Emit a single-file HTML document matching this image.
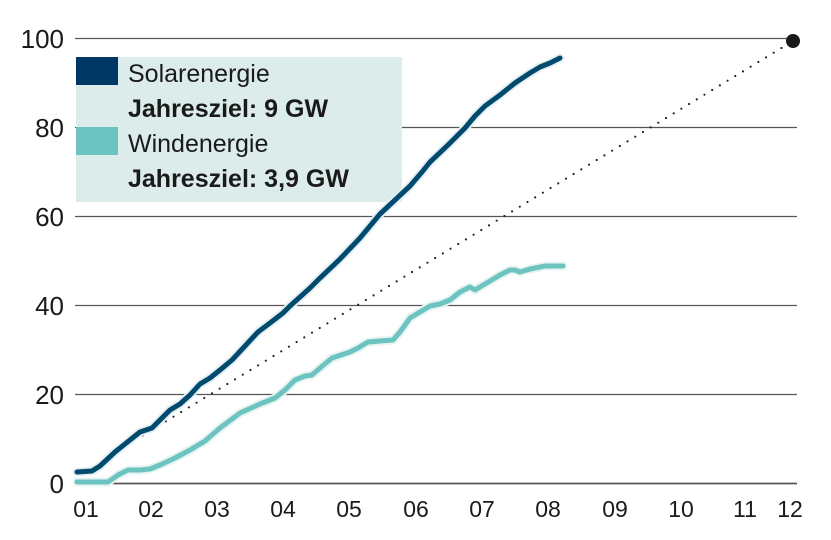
<!DOCTYPE html>
<html><head><meta charset="utf-8"><style>
body{margin:0;background:#fff;}
svg{display:block;font-family:"Liberation Sans",sans-serif;}
</style></head><body>
<svg width="831" height="540" viewBox="0 0 831 540">
<g stroke="#555" stroke-width="1.3">
<line x1="75" x2="797" y1="38.5" y2="38.5"/>
<line x1="75" x2="797" y1="127.5" y2="127.5"/>
<line x1="75" x2="797" y1="216.5" y2="216.5"/>
<line x1="75" x2="797" y1="305.5" y2="305.5"/>
<line x1="75" x2="797" y1="394.5" y2="394.5"/>
<line x1="75" x2="797" y1="483.5" y2="483.5" stroke-width="1.8"/>
</g>
<g font-size="26" fill="#1a1a1a" text-anchor="end">
<text x="64" y="48">100</text>
<text x="64" y="137">80</text>
<text x="64" y="226">60</text>
<text x="64" y="315">40</text>
<text x="64" y="404">20</text>
<text x="64" y="493">0</text>
</g>
<g font-size="23" fill="#1a1a1a" text-anchor="middle">
<text x="86" y="517">01</text><text x="151" y="517">02</text><text x="217" y="517">03</text>
<text x="283" y="517">04</text><text x="349" y="517">05</text><text x="416" y="517">06</text>
<text x="482" y="517">07</text><text x="548" y="517">08</text><text x="615" y="517">09</text>
<text x="681" y="517">10</text><text x="745" y="517">11</text><text x="790" y="517">12</text>
</g>
<line x1="135" y1="440" x2="793" y2="41" stroke="#222" stroke-width="2.2" stroke-linecap="round" stroke-dasharray="0 9"/>
<circle cx="793" cy="41" r="7" fill="#1a1a1a"/>
<rect x="76" y="57" width="326" height="145" fill="#dbeceb"/>
<rect x="76" y="57" width="42" height="28" fill="#003865"/>
<rect x="76" y="127" width="42" height="28" fill="#6cc3bf"/>
<g fill="#1a1a1a" font-size="25">
<text x="128" y="82">Solarenergie</text>
<text x="128" y="117" font-weight="bold">Jahresziel: 9 GW</text>
<text x="128" y="152">Windenergie</text>
<text x="128" y="187" font-weight="bold">Jahresziel: 3,9 GW</text>
</g>
<g fill="none" stroke-linejoin="round" stroke-linecap="round">
<polyline stroke="#e6f4f3" stroke-width="9" points="77,482 108,482 118,475 128,470 140,470 150,469 160,465 175,458 190,450 205,441 220,428 240,413 260,404 275,398 285,390 295,380 305,376 312,375 320,368 332,358 350,352 358,348 368,342 380,341 393,340 400,332 410,318 420,312 430,306 440,304 450,300 460,292 470,287 475,290 490,281 500,275 510,270 515,270 520,272 530,269 545,266 563,266"/>
<polyline stroke="#6cc3bf" stroke-width="5" points="77,482 108,482 118,475 128,470 140,470 150,469 160,465 175,458 190,450 205,441 220,428 240,413 260,404 275,398 285,390 295,380 305,376 312,375 320,368 332,358 350,352 358,348 368,342 380,341 393,340 400,332 410,318 420,312 430,306 440,304 450,300 460,292 470,287 475,290 490,281 500,275 510,270 515,270 520,272 530,269 545,266 563,266"/>
<polyline stroke="#e6f0f4" stroke-width="9" points="77,472 92,471 100,466 115,452 130,440 140,432 152,428 160,420 170,410 180,404 190,395 200,384 210,378 220,370 232,360 245,346 258,332 270,323 283,313 290,306 300,297 310,288 320,278 340,259 360,238 380,214 395,200 410,186 422,172 430,162 450,143 465,128 475,116 485,106 500,95 515,83 530,73 540,67 550,63 560,58"/>
<polyline stroke="#004a6e" stroke-width="5" points="77,472 92,471 100,466 115,452 130,440 140,432 152,428 160,420 170,410 180,404 190,395 200,384 210,378 220,370 232,360 245,346 258,332 270,323 283,313 290,306 300,297 310,288 320,278 340,259 360,238 380,214 395,200 410,186 422,172 430,162 450,143 465,128 475,116 485,106 500,95 515,83 530,73 540,67 550,63 560,58"/>
</g>
</svg>
</body></html>
